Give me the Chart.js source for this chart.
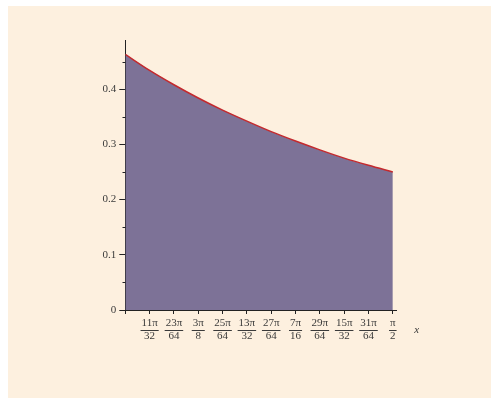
<!DOCTYPE html>
<html>
<head>
<meta charset="utf-8">
<script src="https://cdn.jsdelivr.net/npm/chart.js@4/dist/chart.umd.min.js"></script>
<style>
  html, body { margin: 0; padding: 0; background: #ffffff; width: 491px; height: 407px; overflow: hidden; }
  #wrap { position: absolute; left: 8px; top: 6px; width: 483px; height: 392px; background: #fdf0df; }
  canvas { display: block; }
</style>
</head>
<body>
<div id="wrap"><canvas id="c" width="483" height="392"></canvas></div>
<script>
// x positions in units of pi/64
const xPiOver64 = [21, 22, 23, 24, 25, 26, 27, 28, 29, 30, 31, 32];
// curve values
const yValues = [0.463, 0.434, 0.408, 0.384, 0.362, 0.342, 0.323, 0.306, 0.290, 0.275, 0.262, 0.250];

// tick labels
const xTickValues = [21, 22, 23, 24, 25, 26, 27, 28, 29, 30, 31, 32];
const xTickNum = ['', '11π', '23π', '3π', '25π', '13π', '27π', '7π', '29π', '15π', '31π', 'π'];
const xTickDen = ['', '32', '64', '8', '64', '32', '64', '16', '64', '32', '64', '2'];
const yTickValues = [0, 0.1, 0.2, 0.3, 0.4];
const yTickLabels = ['0', '0.1', '0.2', '0.3', '0.4'];
const yMinorTicks = [0.05, 0.15, 0.25, 0.35, 0.45];
const xAxisTitle = 'x';

const FONT = 'Liberation Serif, Times New Roman, serif';
const AXIS = '#222222';
const TEXT = '#3a3a3a';

const decor = {
  id: 'decor',
  afterDraw(chart) {
    const ctx = chart.ctx;
    const xs = chart.scales.x, ys = chart.scales.y;
    ctx.save();
    // minor y ticks
    ctx.strokeStyle = AXIS;
    ctx.lineWidth = 1;
    const ax = Math.round(chart.chartArea.left) + 0.5;
    yMinorTicks.forEach(v => {
      const py = Math.round(ys.getPixelForValue(v)) + 0.5;
      ctx.beginPath();
      ctx.moveTo(ax - 3, py);
      ctx.lineTo(ax, py);
      ctx.stroke();
    });
    // fraction bars
    ctx.font = '11px ' + FONT;
    ctx.strokeStyle = TEXT;
    const barY = Math.round(xs.top + 4 + 3 + 12.5) + 0.5;
    xTickValues.forEach((v, i) => {
      if (!xTickNum[i]) return;
      const px = xs.getPixelForValue(v);
      const w = Math.max(ctx.measureText(xTickNum[i]).width, ctx.measureText(xTickDen[i]).width) + 2;
      ctx.beginPath();
      ctx.moveTo(px - w / 2, barY);
      ctx.lineTo(px + w / 2, barY);
      ctx.stroke();
    });
    // axis title
    ctx.fillStyle = TEXT;
    ctx.font = 'italic 11px ' + FONT;
    ctx.textAlign = 'center';
    ctx.textBaseline = 'middle';
    ctx.fillText(xAxisTitle, chart.chartArea.right + 20, barY);
    ctx.restore();
  }
};

new Chart(document.getElementById('c'), {
  type: 'line',
  data: {
    datasets: [{
      data: xPiOver64.map((x, i) => ({ x: x, y: yValues[i] })),
      borderColor: '#c42a2e',
      borderWidth: 1.5,
      backgroundColor: '#7d7297',
      fill: 'origin',
      pointRadius: 0,
      cubicInterpolationMode: 'monotone'
    }]
  },
  options: {
    responsive: false,
    animation: false,
    events: [],
    layout: { padding: { left: 77.3, top: 34, right: 94.3, bottom: 48 } },
    plugins: { legend: { display: false }, tooltip: { enabled: false } },
    scales: {
      x: {
        type: 'linear',
        min: 21,
        max: 32.16,
        afterBuildTicks: s => { s.ticks = xTickValues.map(v => ({ value: v })); },
        afterFit: s => { s.height = 40; },
        grid: { drawOnChartArea: false, drawTicks: true, tickLength: 4, color: AXIS },
        border: { display: true, color: AXIS, width: 1 },
        ticks: {
          autoSkip: false,
          maxRotation: 0,
          padding: 3,
          color: TEXT,
          font: { family: FONT, size: 11, lineHeight: '12.5px' },
          callback: (v) => {
            const i = xTickValues.indexOf(v);
            return i > 0 ? [xTickNum[i], xTickDen[i]] : '';
          }
        }
      },
      y: {
        type: 'linear',
        min: 0,
        max: 0.489,
        afterBuildTicks: s => { s.ticks = yTickValues.map(v => ({ value: v })); },
        afterFit: s => { s.width = 40; },
        grid: { drawOnChartArea: false, drawTicks: true, tickLength: 6, color: AXIS },
        border: { display: true, color: AXIS, width: 1 },
        ticks: {
          padding: 3,
          color: TEXT,
          font: { family: FONT, size: 11 },
          callback: (v) => {
            const i = yTickValues.findIndex(t => Math.abs(t - v) < 1e-9);
            return i >= 0 ? yTickLabels[i] : '';
          }
        }
      }
    }
  },
  plugins: [decor]
});
</script>
</body>
</html>
